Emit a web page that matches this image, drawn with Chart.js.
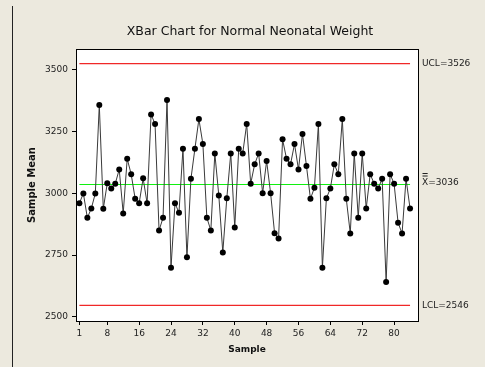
<!DOCTYPE html>
<html>
<head>
<meta charset="utf-8">
<script src="https://cdn.jsdelivr.net/npm/chart.js@4/dist/chart.umd.min.js"></script>
<style>
  html, body { margin: 0; padding: 0; background: #ECE9DE; }
  canvas { display: block; }
</style>
</head>
<body>
<canvas id="xbar" width="485" height="367"></canvas>
<script>
// subgroup means, samples 1..84
var sampleMeans = [
    2960, 3000, 2901, 2939, 3000, 3358, 2938, 3041, 3020, 3039,
    3097, 2919, 3140, 3078, 2978, 2960, 3061, 2960, 3320, 3281,
    2850, 2901, 3378, 2699, 2960, 2922, 3181, 2741, 3059, 3181,
    3301, 3200, 2901, 2850, 3162, 2991, 2761, 2980, 3162, 2862,
    3181, 3162, 3281, 3039, 3118, 3162, 3001, 3131, 3001, 2839,
    2817, 3219, 3140, 3118, 3200, 3097, 3241, 3111, 2978, 3023,
    3281, 2699, 2980, 3020, 3118, 3078, 3301, 2978, 2838, 3162,
    2901, 3162, 2939, 3078, 3039, 3020, 3059, 2641, 3078, 3039,
    2881, 2838, 3059, 2939
];
var ucl = 3526;
var center = 3036;
var lcl = 2546;
var xTicks = [1, 8, 16, 24, 32, 40, 48, 56, 64, 72, 80];
var yTicks = [2500, 2750, 3000, 3250, 3500];

var points = sampleMeans.map(function (v, i) { return { x: i + 1, y: v }; });
var first = 1, last = sampleMeans.length;

function limitLine(value, color) {
    return {
        data: [{ x: first, y: value }, { x: last, y: value }],
        borderColor: color,
        borderWidth: 1.2,
        pointRadius: 0
    };
}

var font = 'DejaVu Sans';

var frame = {
    id: 'frame',
    beforeDraw: function (chart) {
        var c = chart.ctx, a = chart.chartArea;
        c.save();
        c.fillStyle = '#ECE9DE';
        c.fillRect(0, 0, chart.width, chart.height);
        c.fillStyle = '#ffffff';
        c.fillRect(a.left, a.top, a.right - a.left, a.bottom - a.top);
        c.restore();
    },
    afterDraw: function (chart) {
        var c = chart.ctx, a = chart.chartArea, y = chart.scales.y;
        c.save();
        c.strokeStyle = '#000';
        c.lineWidth = 1;
        c.strokeRect(a.left + 0.5, a.top + 0.5, a.right - a.left, a.bottom - a.top);
        // dark rule down the left edge
        c.strokeStyle = '#222';
        c.beginPath();
        c.moveTo(12.5, 6);
        c.lineTo(12.5, chart.height);
        c.stroke();

        c.fillStyle = '#111';
        c.font = '12.5px "' + font + '"';
        c.textAlign = 'center';
        c.textBaseline = 'middle';
        c.fillText('XBar Chart for Normal Neonatal Weight', 250, 32);

        c.font = '9px "' + font + '"';
        c.textAlign = 'left';
        c.fillStyle = '#222';
        var lx = a.right + 4;
        c.fillText('UCL=' + ucl, lx, y.getPixelForValue(ucl));
        c.fillText('LCL=' + lcl, lx, y.getPixelForValue(lcl));
        var cy = y.getPixelForValue(center) - 2;
        c.fillText('X=' + center, lx, cy);
        // double bar over the X
        var w = c.measureText('X').width;
        c.fillRect(lx + 0.5, cy - 9.5, w - 1, 1);
        c.fillRect(lx + 0.5, cy - 7, w - 1, 1);
        c.restore();
    }
};

new Chart(document.getElementById('xbar'), {
    type: 'line',
    data: {
        datasets: [
            {
                data: points,
                borderColor: '#3a3a3a',
                borderWidth: 1,
                pointRadius: 3,
                pointBorderWidth: 0,
                pointBackgroundColor: '#000',
                tension: 0
            },
            limitLine(ucl, '#F02828'),
            limitLine(center, '#10F010'),
            limitLine(lcl, '#F02828')
        ]
    },
    options: {
        responsive: false,
        animation: false,
        layout: { padding: { left: 0, right: 67, top: 49, bottom: 6 } },
        plugins: {
            legend: { display: false },
            tooltip: { enabled: false }
        },
        scales: {
            x: {
                type: 'linear',
                min: 0.15,
                max: 86,
                afterFit: function (s) { s.height = 40; },
                afterBuildTicks: function (s) { s.ticks = xTicks.map(function (v) { return { value: v }; }); },
                grid: { drawOnChartArea: false, drawTicks: true, tickLength: 4, color: '#000' },
                border: { display: false },
                ticks: { color: '#222', padding: 3, maxRotation: 0, font: { family: font, size: 9 } },
                title: {
                    display: true, text: 'Sample', color: '#111',
                    font: { family: font, size: 9, weight: 'bold' },
                    padding: { top: 0, bottom: 5.5 }
                }
            },
            y: {
                min: 2483,
                max: 3585,
                afterFit: function (s) { s.width = 76; },
                afterBuildTicks: function (s) { s.ticks = yTicks.map(function (v) { return { value: v }; }); },
                grid: { drawOnChartArea: false, drawTicks: true, tickLength: 4, color: '#000' },
                border: { display: false },
                ticks: {
                    color: '#222', padding: 4, font: { family: font, size: 9 },
                    callback: function (v) { return String(v); }
                },
                title: {
                    display: true, text: 'Sample Mean', color: '#111',
                    font: { family: font, size: 10, weight: 'bold' },
                    padding: { top: 26, bottom: 0 }
                }
            }
        }
    },
    plugins: [frame]
});
</script>
</body>
</html>
